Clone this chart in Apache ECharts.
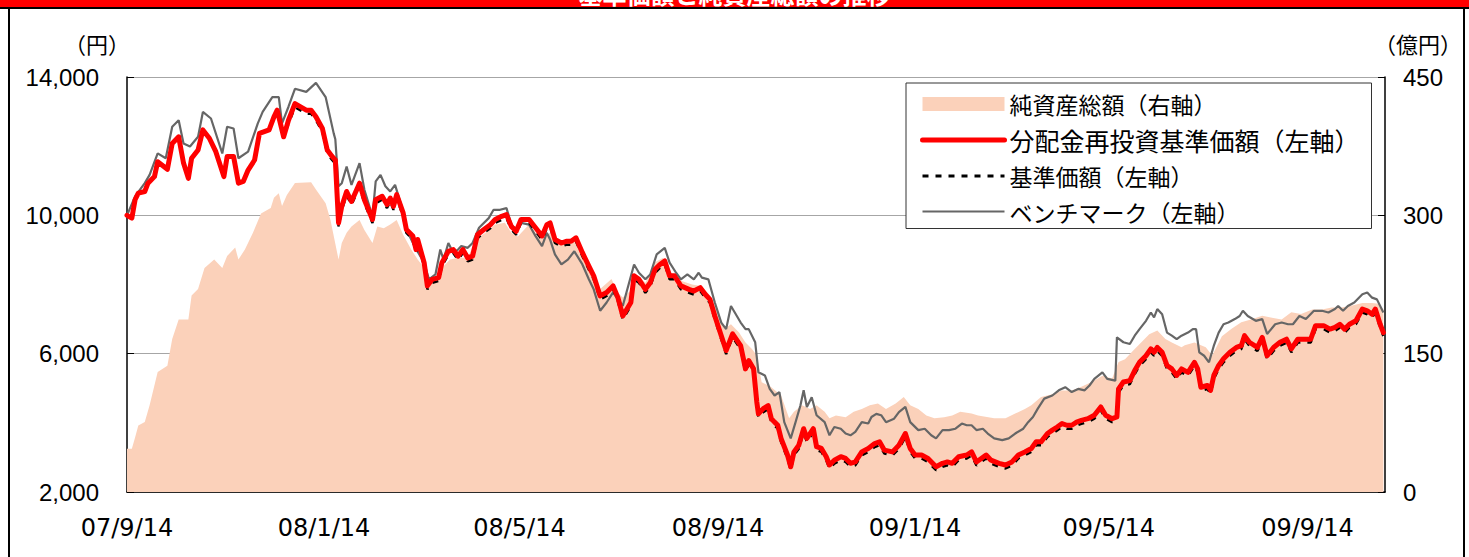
<!DOCTYPE html>
<html>
<head>
<meta charset="utf-8">
<script src="https://cdn.jsdelivr.net/npm/echarts@6.0.0/dist/echarts.min.js"></script>
<style>
  html, body { margin: 0; padding: 0; background: #fff; }
  #chart { width: 1469px; height: 557px; }
  #chart text { text-spacing-trim: space-all; }
</style>
</head>
<body>
<div id="chart"></div>
<script>
// x = days since 2007/9/14
const tickDays = [0, 122, 243, 366, 488, 608, 731]
const tickLabels = ['07/9/14', '08/1/14', '08/5/14', '08/9/14', '09/1/14', '09/5/14', '09/9/14']

// 分配金再投資基準価額 (left axis)
const fundDays = [
  0, 3, 5, 7, 11, 13, 17, 19, 25, 28, 32, 35, 38, 40, 44, 47, 51, 55, 60, 62, 66, 69, 72, 75, 79, 82, 88, 91, 93, 97, 100, 104, 111, 114, 117, 121, 124, 127,
  129, 131, 133, 136, 139, 144, 147, 152, 154, 158, 161, 163, 165, 167, 171, 173, 177, 179, 180, 184, 186, 189, 193, 195, 199, 202, 205, 208, 211, 214, 217, 221, 225, 228, 232, 235, 238, 241, 244, 249, 253, 257, 260,
  262, 265, 269, 272, 275, 278, 282, 286, 289, 293, 297, 301, 304, 307, 312, 314, 317, 321, 324, 327, 330, 333, 336, 339, 343, 348, 351, 355, 358, 361, 364, 368, 371, 375, 380, 383, 385, 388, 390,
  391, 394, 397, 399, 401, 403, 405, 409, 411, 413, 416, 419, 421, 425, 427, 430, 433, 435, 438, 442, 445, 448, 451, 455, 459, 463, 466, 469, 474, 478, 482, 485, 488, 492, 496, 501, 505, 508, 511, 515, 520,
  523, 526, 529, 532, 535, 540, 544, 548, 552, 556, 560, 563, 566, 570, 573, 576, 579, 582, 585, 588, 591, 595, 599, 603, 606, 610, 613, 614, 617, 621, 624, 627, 631, 634, 636, 638, 641, 644, 647, 650,
  653, 657, 661, 663, 665, 669, 671, 673, 676, 679, 683, 687, 690, 692, 695, 700, 703, 706, 710, 714, 718, 721, 725, 729, 733, 736, 741, 745, 748, 751, 754, 757, 761, 765, 768, 771, 773, 776, 778
]
const fundValues = [
  10000, 9920, 10450, 10640, 10690, 10930, 11120, 11550, 11330, 12080, 12270, 11510, 11070, 11650, 11890, 12470, 12230, 11840, 11120, 11700, 11700, 10930, 10980, 11310, 11600, 12370, 12470, 12850, 13040, 12270, 12750, 13230, 13040, 13040, 12850, 12510, 11890, 11700,
  11600, 9780, 10260, 10690, 10400, 10930, 10450, 9880, 10450, 10550, 10310, 10500, 10260, 10600, 10070, 9590, 9400, 9010, 9300, 8630, 7960, 8150, 8200, 8630, 8960, 9010, 8820, 9010, 8770, 8820, 9440, 9590, 9730, 9880, 9970, 10020, 9680, 9540, 9880, 9880, 9640, 9400, 9730,
  9780, 9300, 9200, 9250, 9250, 9350, 8920, 8530, 8250, 7670, 7770, 7960, 7620, 7090, 7480, 8250, 8150, 7860, 8050, 8440, 8580, 8680, 8250, 8250, 7960, 7860, 7810, 7910, 7720, 7570, 7090, 6520, 6090, 6570, 6230, 5560, 5800, 5560, 4600,
  4260, 4410, 4500, 4120, 4020, 3930, 3550, 3070, 2730, 3160, 3350, 3830, 3550, 3830, 3310, 3260, 3020, 2780, 2920, 3020, 2970, 2830, 2870, 3160, 3260, 3400, 3450, 3210, 3160, 3350, 3690, 3260, 3070, 3070, 2970, 2730, 2830, 2870, 2830, 3020, 3070,
  3160, 2870, 2970, 3070, 2920, 2830, 2780, 2870, 3070, 3160, 3260, 3450, 3450, 3690, 3790, 3880, 3980, 3930, 3930, 4020, 4070, 4120, 4220, 4460, 4220, 4120, 4170, 4980, 5180, 5220, 5510, 5750, 5940, 6140, 6040, 6180, 6040, 5660, 5560, 5370,
  5560, 5460, 5750, 5560, 5030, 5080, 4940, 5370, 5660, 5850, 6040, 6180, 6230, 6520, 6330, 6180, 6470, 5940, 6180, 6330, 6420, 6140, 6420, 6420, 6420, 6810, 6810, 6710, 6760, 6850, 6710, 6850, 6950, 7290, 7240, 7140, 7290, 6850, 6610
]
// 基準価額 (left axis), same days as fundDays
const navValues = [
  10000, 9920, 10450, 10640, 10690, 10930, 11120, 11550, 11330, 12080, 12270, 11510, 11070, 11650, 11890, 12470, 12230, 11840, 11120, 11700, 11700, 10930, 10980, 11310, 11600, 12370, 12470, 12850, 13040, 12270, 12650, 13130, 12940, 12940, 12750, 12410, 11790, 11600,
  11500, 9680, 10160, 10590, 10300, 10830, 10350, 9780, 10350, 10450, 10210, 10400, 10160, 10500, 9970, 9490, 9300, 8910, 9200, 8530, 7860, 8050, 8100, 8530, 8860, 8910, 8720, 8910, 8670, 8720, 9340, 9490, 9630, 9780, 9870, 9920, 9580, 9440, 9780, 9780, 9540, 9300, 9630,
  9680, 9200, 9100, 9150, 9150, 9250, 8820, 8430, 8150, 7570, 7670, 7860, 7520, 6990, 7380, 8150, 8050, 7760, 7950, 8340, 8480, 8580, 8150, 8150, 7860, 7760, 7710, 7810, 7620, 7470, 6990, 6420, 5990, 6470, 6130, 5460, 5700, 5460, 4500,
  4160, 4310, 4400, 4020, 3920, 3830, 3450, 2970, 2630, 3060, 3250, 3730, 3450, 3730, 3210, 3160, 2920, 2680, 2820, 2920, 2870, 2730, 2770, 3060, 3160, 3300, 3350, 3110, 3060, 3250, 3590, 3160, 2970, 2970, 2870, 2630, 2730, 2770, 2730, 2920, 2970,
  3060, 2770, 2870, 2970, 2820, 2730, 2680, 2770, 2970, 3060, 3160, 3350, 3350, 3590, 3690, 3780, 3880, 3830, 3830, 3920, 3970, 4020, 4120, 4360, 4120, 4020, 4070, 4880, 5080, 5120, 5410, 5650, 5840, 6040, 5940, 6080, 5940, 5560, 5460, 5270,
  5460, 5360, 5650, 5460, 4930, 4980, 4840, 5270, 5560, 5750, 5940, 6080, 6130, 6420, 6230, 6080, 6370, 5840, 6080, 6230, 6320, 6040, 6320, 6320, 6320, 6710, 6710, 6610, 6660, 6750, 6610, 6750, 6850, 7190, 7140, 7040, 7190, 6750, 6510
]

// ベンチマーク (left axis)
const benchDays = [
  0, 5, 11, 14, 19, 24, 28, 32, 35, 39, 44, 47, 52, 59, 62, 66, 69, 75, 81, 84, 90, 94, 96, 100, 104, 111, 117, 123, 128,
  129, 131, 133, 136, 139, 144, 147, 152, 154, 157, 160, 163, 166, 170, 173, 178, 184, 187, 191, 194, 196, 199, 202, 205, 207, 211, 214, 218, 224, 227, 231, 235, 238, 241, 244, 249, 253, 257, 260,
  262, 265, 269, 273, 277, 282, 286, 289, 293, 297, 301, 304, 307, 314, 317, 321, 324, 328, 333, 336, 340, 343, 347, 351, 354, 356, 360, 364, 368, 371, 374, 380, 383, 385, 389,
  391, 395, 398, 401, 404, 407, 411, 414, 417, 419, 421, 424, 427, 432, 435, 438, 442, 445, 448, 451, 455, 459, 461, 464, 467, 470, 475, 478, 482, 485, 490, 494, 498, 501, 505, 509, 513, 517, 520,
  523, 526, 530, 533, 537, 542, 546, 550, 555, 558, 561, 564, 568, 573, 577, 581, 585, 589, 593, 596, 599, 604, 607, 612, 613, 617, 621, 624, 627, 631, 634, 636, 638, 641, 644, 647, 650,
  653, 657, 660, 662, 664, 667, 670, 673, 676, 679, 682, 686, 689, 691, 694, 699, 703, 706, 711, 715, 719, 722, 726, 730, 735, 740, 744, 748, 750, 753, 756, 760, 765, 768, 771, 774, 778
]
const benchValues = [
  10000, 10550, 10930, 11170, 11790, 11650, 12560, 12750, 12080, 11990, 12270, 12990, 12800, 11790, 12560, 12510, 11650, 11840, 12660, 12990, 13420, 13420, 12660, 13140, 13660, 13570, 13830, 13420, 12370,
  12200, 10840, 10930, 11410, 10880, 11510, 10740, 9970, 10980, 11170, 10840, 10690, 10880, 10260, 9590, 9110, 8630, 8150, 8290, 9010, 8720, 9200, 8920, 9010, 9110, 9060, 9200, 9640, 9920, 10160, 10160, 10210, 9730, 9590, 9780, 9730, 9400, 9110, 9490,
  9300, 8870, 8580, 8720, 8960, 8580, 8150, 7860, 7240, 7480, 7770, 7570, 7380, 8580, 8340, 8150, 8290, 8870, 9060, 8630, 8340, 8150, 8290, 8150, 8340, 8200, 8150, 7480, 6900, 6710, 7380, 6900, 6710, 6710, 6330,
  5460, 5370, 4980, 4790, 4890, 4020, 3550, 4020, 4500, 4940, 4460, 4740, 4220, 4020, 3640, 3880, 3830, 3690, 3640, 3740, 4020, 3980, 4170, 4260, 4220, 4020, 4120, 4310, 4460, 4020, 3790, 3830, 3640, 3550, 3790, 3790, 3830, 3980, 3930,
  3930, 3790, 3830, 3690, 3550, 3500, 3550, 3690, 3830, 4020, 4170, 4410, 4700, 4790, 4940, 5030, 4890, 4980, 4940, 5080, 5270, 5460, 5270, 5220, 6470, 6330, 6280, 6520, 6710, 6950, 7190, 7050, 7290, 7140, 6610, 6520, 6420,
  6520, 6610, 6710, 6710, 6040, 5940, 5750, 6230, 6610, 6850, 6900, 7000, 7090, 7240, 7090, 6950, 7000, 6570, 6850, 6900, 6850, 6850, 7090, 7000, 7240, 7240, 7190, 7290, 7380, 7240, 7380, 7480, 7720, 7770, 7620, 7570, 7190
]

// 純資産総額 (right axis, 億円)
const assetDays = [
  0, 3, 5, 7, 11, 14, 19, 25, 28, 32, 38, 40, 44, 48, 54, 59, 62, 67, 69, 73, 78, 83, 89, 91, 94, 96, 99, 104, 114, 117, 123, 126,
  131, 133, 136, 139, 144, 147, 152, 155, 159, 163, 167, 171, 176, 180, 185, 187, 191, 195, 200, 205, 211, 216, 222, 228, 234, 238, 242, 249, 253, 257,
  262, 265, 269, 273, 278, 282, 286, 289, 293, 300, 304, 307, 313, 317, 321, 327, 332, 337, 343, 350, 356, 361, 365, 370, 374, 379, 383, 387, 390,
  393, 398, 405, 410, 413, 418, 423, 427, 432, 435, 439, 445, 450, 455, 460, 465, 470, 476, 481, 485, 490, 495, 500, 506, 511, 516,
  523, 527, 537, 544, 550, 556, 560, 566, 573, 579, 585, 591, 597, 604, 610, 614, 618, 624, 628, 633, 638, 643, 647,
  653, 655, 661, 668, 672, 678, 684, 690, 696, 703, 709, 715, 721, 727, 734, 740, 746, 752, 758, 765, 771, 775, 778
]
const assetValues = [
  47, 47, 59, 72, 76, 94, 130, 137, 166, 187, 187, 213, 220, 243, 252, 243, 256, 265, 252, 263, 281, 302, 308, 319, 324, 310, 322, 335, 336, 328, 313, 295,
  252, 270, 281, 288, 295, 284, 270, 288, 286, 290, 295, 279, 263, 252, 241, 229, 234, 243, 252, 254, 254, 274, 281, 290, 292, 281, 277, 290, 281, 274,
  281, 276, 272, 274, 276, 263, 247, 238, 220, 231, 216, 211, 220, 234, 227, 249, 254, 238, 229, 225, 223, 213, 198, 177, 182, 173, 162, 155, 148,
  119, 115, 105, 80, 87, 94, 90, 94, 87, 80, 83, 81, 87, 90, 94, 96, 90, 96, 103, 94, 90, 83, 80, 81, 83, 87,
  85, 83, 80, 80, 85, 90, 94, 103, 106, 110, 110, 114, 119, 126, 123, 141, 144, 155, 162, 171, 175, 166, 162,
  157, 159, 162, 157, 148, 169, 177, 184, 187, 191, 189, 187, 195, 193, 198, 198, 200, 200, 202, 205, 205, 204, 198
]

const pairs = (days, vals) => days.map((d, i) => [d, vals[i]])
const numFont = '"Liberation Sans", Arial, sans-serif'
const dateFont = '"DejaVu Sans", sans-serif'
const jpFont = '"Noto Sans CJK JP", sans-serif'

const chart = echarts.init(document.getElementById('chart'), null, { renderer: 'svg' })
chart.setOption({
  animation: false,
  grid: { left: 127, right: 84, top: 77, bottom: 65, containLabel: false },
  legend: {
    orient: 'vertical',
    left: 906,
    top: 83,
    padding: [9, 12, 5, 14],
    itemGap: 11.5,
    itemWidth: 82,
    itemHeight: 14,
    borderColor: '#333',
    borderWidth: 1,
    backgroundColor: '#fff',
    textStyle: { fontFamily: jpFont, fontSize: 23, lineHeight: 24, color: '#000' },
    data: [
      { name: '純資産総額（右軸）', icon: 'rect' },
      {
        name: '分配金再投資基準価額（左軸）',
        itemStyle: { opacity: 0 },
        lineStyle: { width: 5, color: '#ff0000', cap: 'round' },
        textStyle: { fontSize: 25 }
      },
      {
        name: '基準価額（左軸）',
        itemStyle: { opacity: 0 },
        lineStyle: { width: 3, color: '#000', type: [6, 7] }
      },
      {
        name: 'ベンチマーク（左軸）',
        itemStyle: { opacity: 0 },
        lineStyle: { width: 2.2, color: '#666' }
      }
    ]
  },
  xAxis: {
    type: 'value',
    min: 0,
    max: 779,
    axisLine: { lineStyle: { color: '#000', width: 1.5 } },
    axisTick: { inside: true, length: 7, customValues: tickDays, lineStyle: { color: '#000' } },
    axisLabel: {
      customValues: tickDays,
      formatter: v => tickLabels[tickDays.indexOf(v)],
      fontFamily: dateFont, fontSize: 24, color: '#000', margin: 24
    },
    splitLine: { show: false }
  },
  yAxis: [
    {
      type: 'value',
      min: 2000,
      max: 14000,
      interval: 4000,
      position: 'left',
      axisLine: { show: true, lineStyle: { color: '#000', width: 1.5 } },
      axisTick: { show: true, inside: true, length: 7, lineStyle: { color: '#000' } },
      axisLabel: {
        formatter: v => v.toLocaleString('en-US'),
        fontFamily: numFont, fontSize: 24, color: '#000', margin: 28
      },
      splitLine: { show: true, lineStyle: { color: '#a6a6a6', width: 1 } }
    },
    {
      type: 'value',
      min: 0,
      max: 450,
      interval: 150,
      position: 'right',
      axisLine: { show: true, lineStyle: { color: '#000', width: 1.5 } },
      axisTick: { show: true, inside: true, length: 7, lineStyle: { color: '#000' } },
      axisLabel: { fontFamily: numFont, fontSize: 24, color: '#000', margin: 18 },
      splitLine: { show: false }
    }
  ],
  series: [
    {
      name: '純資産総額（右軸）',
      type: 'line',
      yAxisIndex: 1,
      data: pairs(assetDays, assetValues),
      symbol: 'none',
      z: 1,
      itemStyle: { color: '#fbd1ba' },
      lineStyle: { width: 0, color: '#fbd1ba' },
      areaStyle: { color: '#fbd1ba', opacity: 1 }
    },
    {
      name: 'ベンチマーク（左軸）',
      type: 'line',
      data: pairs(benchDays, benchValues),
      symbol: 'none',
      z: 2,
      itemStyle: { color: '#666' },
      lineStyle: { width: 2.2, color: '#666' }
    },
    {
      name: '基準価額（左軸）',
      type: 'line',
      data: pairs(fundDays, navValues),
      symbol: 'none',
      z: 3,
      itemStyle: { color: '#000' },
      lineStyle: { width: 2.5, color: '#000', type: [6, 7] }
    },
    {
      name: '分配金再投資基準価額（左軸）',
      type: 'line',
      data: pairs(fundDays, fundValues),
      symbol: 'none',
      z: 4,
      itemStyle: { color: '#ff0000' },
      lineStyle: { width: 5, color: '#ff0000', cap: 'round', join: 'round' }
    }
  ],
  graphic: [
    { type: 'rect', shape: { x: 0, y: 0, width: 1469, height: 7 }, style: { fill: '#ff0000' }, z: 10 },
    {
      type: 'text', left: 'center', top: -19, z: 11,
      style: { text: '基準価額と純資産総額の推移', fill: '#fff', font: 'bold 24px "Noto Sans CJK JP"' }
    },
    { type: 'rect', shape: { x: 0, y: 7, width: 1469, height: 2 }, style: { fill: '#000' }, z: 10 },
    { type: 'rect', shape: { x: 8, y: 7, width: 2, height: 550 }, style: { fill: '#000' }, z: 10 },
    { type: 'rect', shape: { x: 1463, y: 7, width: 2, height: 550 }, style: { fill: '#000' }, z: 10 },
    {
      type: 'text', left: 64, top: 32, z: 10,
      style: { text: '（円）', fill: '#000', font: '22px "Noto Sans CJK JP"' }
    },
    {
      type: 'text', left: 1374, top: 32, z: 10,
      style: { text: '（億円）', fill: '#000', font: '22px "Noto Sans CJK JP"' }
    }
  ]
})
</script>
</body>
</html>
